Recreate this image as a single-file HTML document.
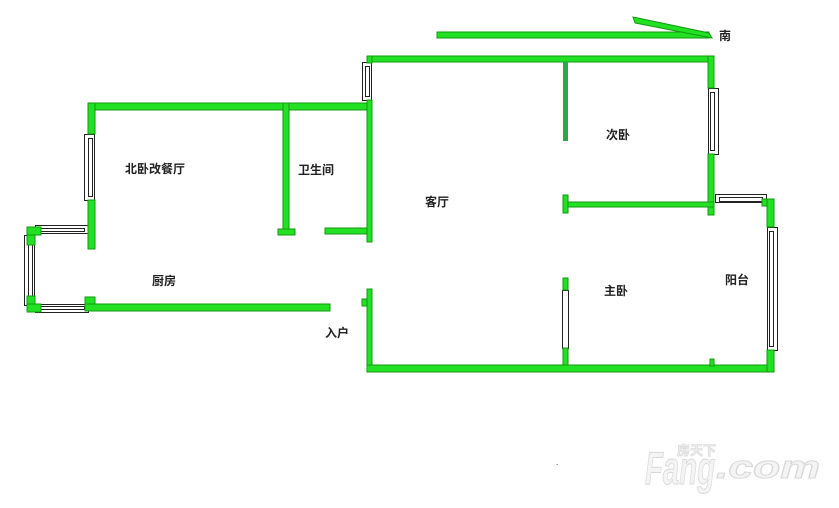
<!DOCTYPE html>
<html><head><meta charset="utf-8"><style>
html,body{margin:0;padding:0;background:#fff;width:839px;height:508px;overflow:hidden}
svg{display:block}
text{font-family:"Liberation Sans","Noto Sans CJK SC",sans-serif;font-size:12px;fill:#111}
.lbl{font-weight:bold;font-size:12px;fill:#222}
</style></head><body>
<svg width="839" height="508" viewBox="0 0 839 508" xmlns="http://www.w3.org/2000/svg">
<g fill="#fff" stroke="#222" stroke-width="1">
  <rect x="84.5" y="134.5" width="10" height="66"/><rect x="88.5" y="138.5" width="4" height="58"/>
  <rect x="35.5" y="225.5" width="53" height="8"/><rect x="38.5" y="228.5" width="46" height="3"/>
  <rect x="35.5" y="304.5" width="53" height="8"/><rect x="38.5" y="306.5" width="46" height="3"/>
  <rect x="24.5" y="235.5" width="10" height="70"/><rect x="28.5" y="239.5" width="4" height="62"/>
  <rect x="362.5" y="62.5" width="9" height="38"/><rect x="365.5" y="66.5" width="4" height="30"/>
  <rect x="708.5" y="88.5" width="10" height="66"/><rect x="710.5" y="92.5" width="4" height="58"/>
  <rect x="715.5" y="194.5" width="51" height="8"/><rect x="719.5" y="197.5" width="43" height="4"/>
  <rect x="767.5" y="227.5" width="10" height="123"/><rect x="769.5" y="231.5" width="4" height="115"/>
  <rect x="562.5" y="290.5" width="6" height="58"/>
</g>
<g fill="#22e022" stroke="#129a12" stroke-width="1">
  <rect x="437" y="32" width="272" height="6"/>
  <polygon points="633,17 635,23 712,38 709,33"/>
  <rect x="88" y="103" width="284" height="7"/>
  <rect x="88" y="103" width="7" height="31"/>
  <rect x="88" y="200" width="7" height="49"/>
  <rect x="283" y="103" width="6" height="131"/>
  <rect x="278" y="229" width="17" height="6"/>
  <rect x="325" y="228" width="47" height="6"/>
  <rect x="27" y="227" width="8" height="18"/><rect x="27" y="227" width="14" height="8"/>
  <rect x="27" y="296" width="8" height="16"/><rect x="27" y="304" width="14" height="8"/>
  <rect x="85" y="297" width="10" height="14"/>
  <rect x="85" y="304" width="245" height="7"/>
  <rect x="367" y="56" width="347" height="6"/>
  <rect x="367" y="56" width="5" height="7"/>
  <rect x="367" y="100" width="5" height="142"/>
  <rect x="367" y="289" width="5" height="83"/>
  <rect x="362" y="299" width="5" height="7"/>
  <rect x="367" y="365" width="407" height="7"/>
  <rect x="708" y="56" width="6" height="32"/>
  <rect x="708" y="154" width="6" height="61"/>
  <rect x="563" y="202" width="151" height="5"/>
  <rect x="563" y="195" width="5" height="18"/>
  <rect x="762" y="199" width="12" height="7"/>
  <rect x="767" y="199" width="7" height="28"/>
  <rect x="767" y="350" width="7" height="22"/>
  <rect x="710" y="359" width="4" height="7"/>
  <rect x="563" y="278" width="5" height="12"/>
  <rect x="563" y="348" width="5" height="17"/>
</g>
<rect x="563" y="62" width="5" height="79" fill="#2aa84a"/>
<text class="lbl" x="125" y="173">北卧改餐厅</text>
<text class="lbl" x="298" y="174">卫生间</text>
<text class="lbl" x="425" y="206">客厅</text>
<text class="lbl" x="606" y="139">次卧</text>
<text class="lbl" x="604" y="295">主卧</text>
<text class="lbl" x="725" y="284">阳台</text>
<text class="lbl" x="152" y="285">厨房</text>
<text class="lbl" x="325" y="337">入户</text>
<text class="lbl" x="719" y="40">南</text>
<text x="556" y="465" style="font-size:8px">.</text>
<text x="645" y="484" textLength="70" lengthAdjust="spacingAndGlyphs" style="font-size:46px;fill:#f4f4f4;stroke:#d8d8d8;stroke-width:1;font-weight:bold;font-style:italic">Fang</text>
<text x="716" y="478" textLength="104" lengthAdjust="spacingAndGlyphs" style="font-size:32px;fill:#f4f4f4;stroke:#d8d8d8;stroke-width:1;font-weight:bold;font-style:italic">.com</text>
<text x="677" y="455" style="font-size:13px;fill:#f0f0f0;stroke:#d4d4d4;stroke-width:0.6;font-weight:bold">房天下</text>
</svg>
</body></html>
